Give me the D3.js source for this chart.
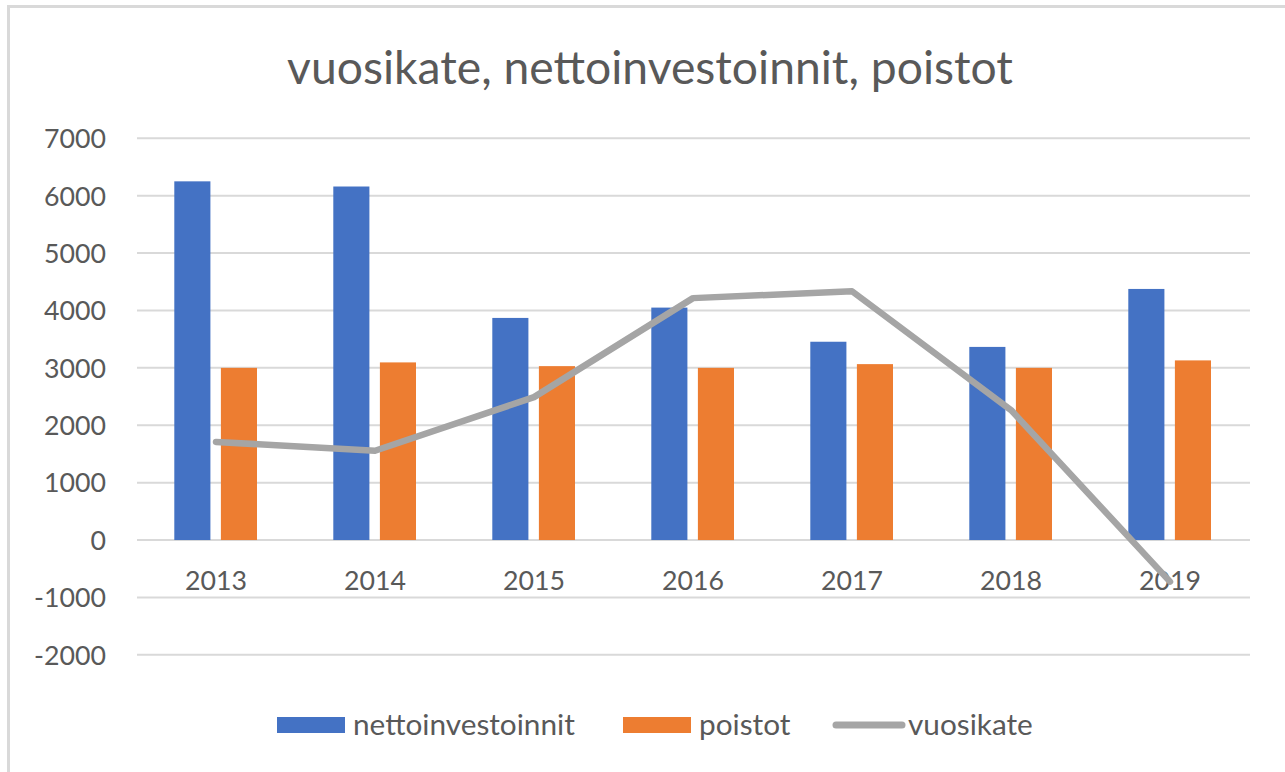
<!DOCTYPE html>
<html>
<head>
<meta charset="utf-8">
<script src="https://cdn.jsdelivr.net/npm/d3@7"></script>
<style>
  html, body { margin: 0; padding: 0; background: #fff; }
  svg { display: block; }
  text { font-family: Lato, "Open Sans", sans-serif; fill: #595959; }
</style>
</head>
<body>
<svg id="chart" width="1285" height="772"></svg>
<script>
const years = ["2013", "2014", "2015", "2016", "2017", "2018", "2019"];
const nettoinvestoinnit = [6250, 6160, 3870, 4050, 3455, 3365, 4375];
const poistot = [3000, 3095, 3030, 3000, 3065, 3000, 3130];
const vuosikate = [1710, 1555, 2490, 4215, 4335, 2265, -725];
const yTicks = [-2000, -1000, 0, 1000, 2000, 3000, 4000, 5000, 6000, 7000];
const barSeries = ["nettoinvestoinnit", "poistot"];
const title = "vuosikate, nettoinvestoinnit, poistot";

const colors = { nettoinvestoinnit: "#4472C4", poistot: "#ED7D31", vuosikate: "#A5A5A5" };

const svg = d3.select("#chart");

// frame (top + left border visible)
svg.append("line").attr("x1", 8.5).attr("x2", 1285).attr("y1", 6.5).attr("y2", 6.5)
  .attr("stroke", "#d9d9d9").attr("stroke-width", 3);
svg.append("line").attr("x1", 8.5).attr("x2", 8.5).attr("y1", 5).attr("y2", 772)
  .attr("stroke", "#d9d9d9").attr("stroke-width", 3);

function fitSize(sel, targetWidth) {
  sel.style("font-size", "100px");
  const w = sel.node().getComputedTextLength();
  sel.style("font-size", (100 * targetWidth / w) + "px");
}

const x = d3.scaleBand().domain(years).range([136.5, 1249.5]).paddingInner(0).paddingOuter(0);
const xSub = d3.scaleBand().domain(barSeries).range([-41.7, 41]).paddingInner(0.225);
const y = d3.scaleLinear().domain([-2000, 7000]).range([654.8, 138.3]);
const cx = d => x(d) + x.bandwidth() / 2;

// gridlines
svg.append("g").selectAll("line").data(yTicks).join("line")
  .attr("x1", 137).attr("x2", 1250)
  .attr("y1", d => y(d)).attr("y2", d => y(d))
  .attr("stroke", "#d9d9d9").attr("stroke-width", 2);

// y axis labels
const yAxis = d3.axisLeft(y).tickValues(yTicks).tickSize(0).tickPadding(0).tickFormat(d => String(d));
const yg = svg.append("g").attr("transform", "translate(106,0)").call(yAxis);
yg.select(".domain").remove();
const probe = yg.selectAll("text").filter(d => d === 7000);
fitSize(probe, 62);
const tickFs = probe.style("font-size");
yg.selectAll("text").style("font-size", tickFs).attr("fill", "#595959")
  .attr("font-family", null).attr("dy", "0.35em");

// bars
const barData = [];
years.forEach((yr, i) => {
  barData.push({ year: yr, key: "nettoinvestoinnit", value: nettoinvestoinnit[i] });
  barData.push({ year: yr, key: "poistot", value: poistot[i] });
});
svg.append("g").selectAll("rect").data(barData).join("rect")
  .attr("x", d => cx(d.year) + xSub(d.key))
  .attr("width", xSub.bandwidth())
  .attr("y", d => y(Math.max(0, d.value)))
  .attr("height", d => Math.abs(y(d.value) - y(0)))
  .attr("fill", d => colors[d.key]);

// x axis labels
const xAxis = d3.axisBottom(x).tickSize(0).tickPadding(0);
const xg = svg.append("g").attr("transform", "translate(0,581)").call(xAxis);
xg.select(".domain").remove();
xg.selectAll("text").style("font-size", tickFs).attr("fill", "#595959")
  .attr("font-family", null).attr("y", 0).attr("dy", "0.35em");

// line
const line = d3.line().x((d, i) => cx(years[i])).y(d => y(d));
svg.append("path").datum(vuosikate)
  .attr("d", line)
  .attr("fill", "none")
  .attr("stroke", colors.vuosikate)
  .attr("stroke-width", 6.5)
  .attr("stroke-linecap", "round")
  .attr("stroke-linejoin", "round");

// title
const t = svg.append("text").attr("x", 650).attr("y", 84).attr("text-anchor", "middle").text(title);
fitSize(t, 726);

// legend
const leg = svg.append("g");
const legY = 725;
leg.append("rect").attr("x", 277).attr("y", legY - 8).attr("width", 68).attr("height", 16).attr("fill", colors.nettoinvestoinnit);
const l1 = leg.append("text").attr("x", 353).attr("y", legY).attr("dy", "0.35em").text("nettoinvestoinnit");
fitSize(l1, 222);
const legFs = l1.style("font-size");
leg.append("rect").attr("x", 623).attr("y", legY - 8).attr("width", 68).attr("height", 16).attr("fill", colors.poistot);
leg.append("text").attr("x", 699).attr("y", legY).attr("dy", "0.35em").style("font-size", legFs).text("poistot");
leg.append("line").attr("x1", 836).attr("x2", 902).attr("y1", legY).attr("y2", legY)
  .attr("stroke", colors.vuosikate).attr("stroke-width", 7).attr("stroke-linecap", "round");
leg.append("text").attr("x", 908).attr("y", legY).attr("dy", "0.35em").style("font-size", legFs).text("vuosikate");
</script>
</body>
</html>
